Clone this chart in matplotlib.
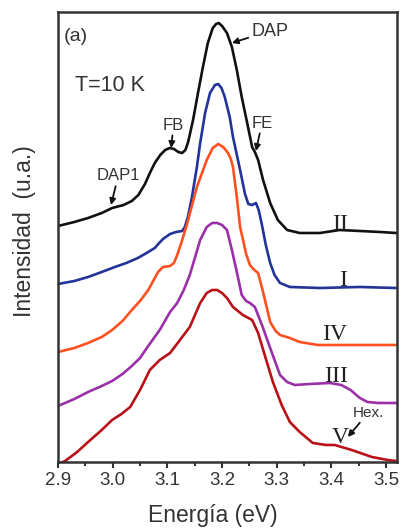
import matplotlib
matplotlib.use('Agg')
import matplotlib.pyplot as plt
from matplotlib.ticker import MultipleLocator

# curve data (energy in eV, intensity in arbitrary units)
e_II = [2.900, 2.930, 2.955, 2.980, 2.999, 3.020, 3.035, 3.047, 3.059, 3.068, 3.077, 3.087,
        3.096, 3.104, 3.112, 3.120, 3.127, 3.133, 3.138, 3.147, 3.156,
        3.165, 3.174, 3.183, 3.189, 3.194, 3.200, 3.209, 3.218, 3.227, 3.236, 3.246, 3.255,
        3.260, 3.266, 3.275, 3.288, 3.302, 3.319, 3.342, 3.379, 3.415, 3.452, 3.489, 3.518]
i_II = [236, 240, 244, 249, 254, 257, 261, 267, 278, 289, 299, 307,
        312, 314, 313, 310, 309, 312, 320, 342, 369,
        395, 419, 434, 438, 439, 436, 429, 415, 392, 365, 339, 315,
        310, 302, 282, 259, 242, 232, 229, 229, 232, 231, 230, 229]

e_I = [2.900, 2.930, 2.955, 2.980, 3.004, 3.025, 3.046, 3.062, 3.077, 3.085, 3.092, 3.105,
       3.116, 3.127, 3.132, 3.138, 3.145, 3.154, 3.160,
       3.169, 3.178, 3.187, 3.193, 3.199, 3.205, 3.214, 3.220, 3.233, 3.242, 3.248, 3.255,
       3.262, 3.267, 3.273, 3.280, 3.288, 3.296, 3.306, 3.324, 3.379, 3.452, 3.518]
i_I = [178, 181, 185, 190, 195, 199, 204, 209, 214, 219, 223, 228,
       230, 231, 235, 246, 265, 295, 319,
       349, 369, 377, 378, 374, 365, 345, 325, 292, 268, 258, 257,
       259, 252, 237, 217, 199, 187, 179, 175, 174, 175, 174]

e_IV = [2.900, 2.930, 2.955, 2.980, 2.999, 3.018, 3.035, 3.050, 3.065, 3.075, 3.083, 3.092,
        3.105, 3.112, 3.118, 3.126, 3.136, 3.154, 3.172,
        3.183, 3.193, 3.202, 3.211, 3.216, 3.220, 3.227, 3.233, 3.238, 3.244, 3.251, 3.259,
        3.266, 3.275, 3.288, 3.298, 3.306, 3.324, 3.342, 3.375, 3.420, 3.518]
i_IV = [110, 114, 119, 125, 132, 141, 152, 161, 172, 182, 190, 195,
        196, 199, 207, 220, 238, 275, 302,
        314, 318, 315, 309, 303, 295, 265, 235, 223, 208, 197, 192,
        189, 170, 140, 131, 127, 124, 120, 117, 117, 117]

e_III = [2.900, 2.930, 2.955, 2.980, 2.999, 3.018, 3.035, 3.050, 3.065, 3.086, 3.105, 3.118,
         3.130, 3.141, 3.160, 3.172, 3.182, 3.191, 3.200,
         3.209, 3.218, 3.227, 3.236, 3.244, 3.251, 3.260, 3.273, 3.288, 3.306, 3.319, 3.333, 3.361,
         3.397, 3.418, 3.435, 3.452, 3.466, 3.485, 3.518]
i_III = [56, 63, 70, 76, 81, 88, 96, 104, 116, 132, 150, 159,
         172, 187, 222, 235, 239, 239, 237,
         232, 212, 190, 167, 161, 159, 155, 137, 114, 87, 80, 77, 78,
         79, 77, 72, 64, 60, 59, 59]

e_V = [2.900, 2.913, 2.935, 2.955, 2.978, 2.999, 3.016, 3.032, 3.050, 3.068, 3.086, 3.105,
       3.123, 3.141, 3.160, 3.172, 3.182,
       3.191, 3.200, 3.209, 3.220, 3.238, 3.255, 3.266, 3.278, 3.293, 3.309, 3.324, 3.342, 3.366,
       3.390, 3.406, 3.437, 3.474, 3.503, 3.518]
i_V = [-2, 1, 10, 20, 31, 42, 48, 55, 72, 92, 102, 109,
       122, 135, 159, 169, 172,
       172, 169, 164, 155, 147, 142, 129, 107, 80, 57, 40, 30, 19,
       17, 17, 12, 5, 2, 1]

series = [
    (e_II, i_II, '#111111', 'II', 3.416, 232),
    (e_I, i_I, '#22339a', 'I', 3.421, 176),
    (e_IV, i_IV, '#ff5020', 'IV', 3.406, 122),
    (e_III, i_III, '#9a30a8', 'III', 3.408, 80),
    (e_V, i_V, '#b81218', 'V', 3.416, 19),
]

fig = plt.figure(figsize=(4.02, 5.29), dpi=100)
ax = fig.add_axes([0.1443, 0.1267, 0.8433, 0.8506])

for e, inten, col, name, lx, ly in series:
    ax.plot(e, inten, color=col, lw=1.9, solid_joinstyle='round')
    ax.text(lx, ly, name, family='Liberation Serif', fontsize=17,
            ha='center', va='baseline', color='#222222')

ax.set_xlim(2.9, 3.52)
ax.set_ylim(0, 450)
ax.set_yticks([])
ax.xaxis.set_major_locator(MultipleLocator(0.1))
ax.xaxis.set_minor_locator(MultipleLocator(0.05))
ax.tick_params(axis='x', which='major', direction='out', length=4, width=1.5,
               labelsize=13.5, colors='#333333', pad=3)
ax.tick_params(axis='x', which='minor', direction='out', length=3, width=1.5, colors='#333333')
for sp in ax.spines.values():
    sp.set_linewidth(1.8)
    sp.set_color('#333333')
for lab in ax.get_xticklabels():
    lab.set_family('Liberation Sans')

fs = dict(family='Liberation Sans', color='#333333')
ax.text(2.911, 434, '(a)', fontsize=14, va='top', **fs)
ax.text(2.931, 387, 'T=10 K', fontsize=15.5, va='top', **fs)

arrow = dict(arrowstyle='-|>', color='#111111', lw=1.3, mutation_scale=9,
             shrinkA=0, shrinkB=0)
ax.annotate('DAP', xy=(3.218, 419), xytext=(3.253, 431), fontsize=13,
            ha='left', va='center', arrowprops=arrow, **fs)
ax.annotate('FB', xy=(3.107, 314), xytext=(3.111, 337), fontsize=12,
            ha='center', va='center', arrowprops=arrow, **fs)
ax.annotate('FE', xy=(3.262, 311), xytext=(3.273, 339), fontsize=12,
            ha='center', va='center', arrowprops=arrow, **fs)
ax.annotate('DAP1', xy=(2.997, 257), xytext=(3.010, 286), fontsize=12,
            ha='center', va='center', arrowprops=arrow, **fs)
ax.annotate('Hex.', xy=(3.430, 25), xytext=(3.467, 49), fontsize=11,
            ha='center', va='center', arrowprops=arrow, **fs)

fig.text(0.53, 0.025, 'Energía (eV)', fontsize=16.5, ha='center', va='center', **fs)
fig.text(0.062, 0.563, 'Intensidad  (u.a.)', fontsize=16.5, rotation=90,
         ha='center', va='center', **fs)

fig.savefig('out.png', dpi=100)
